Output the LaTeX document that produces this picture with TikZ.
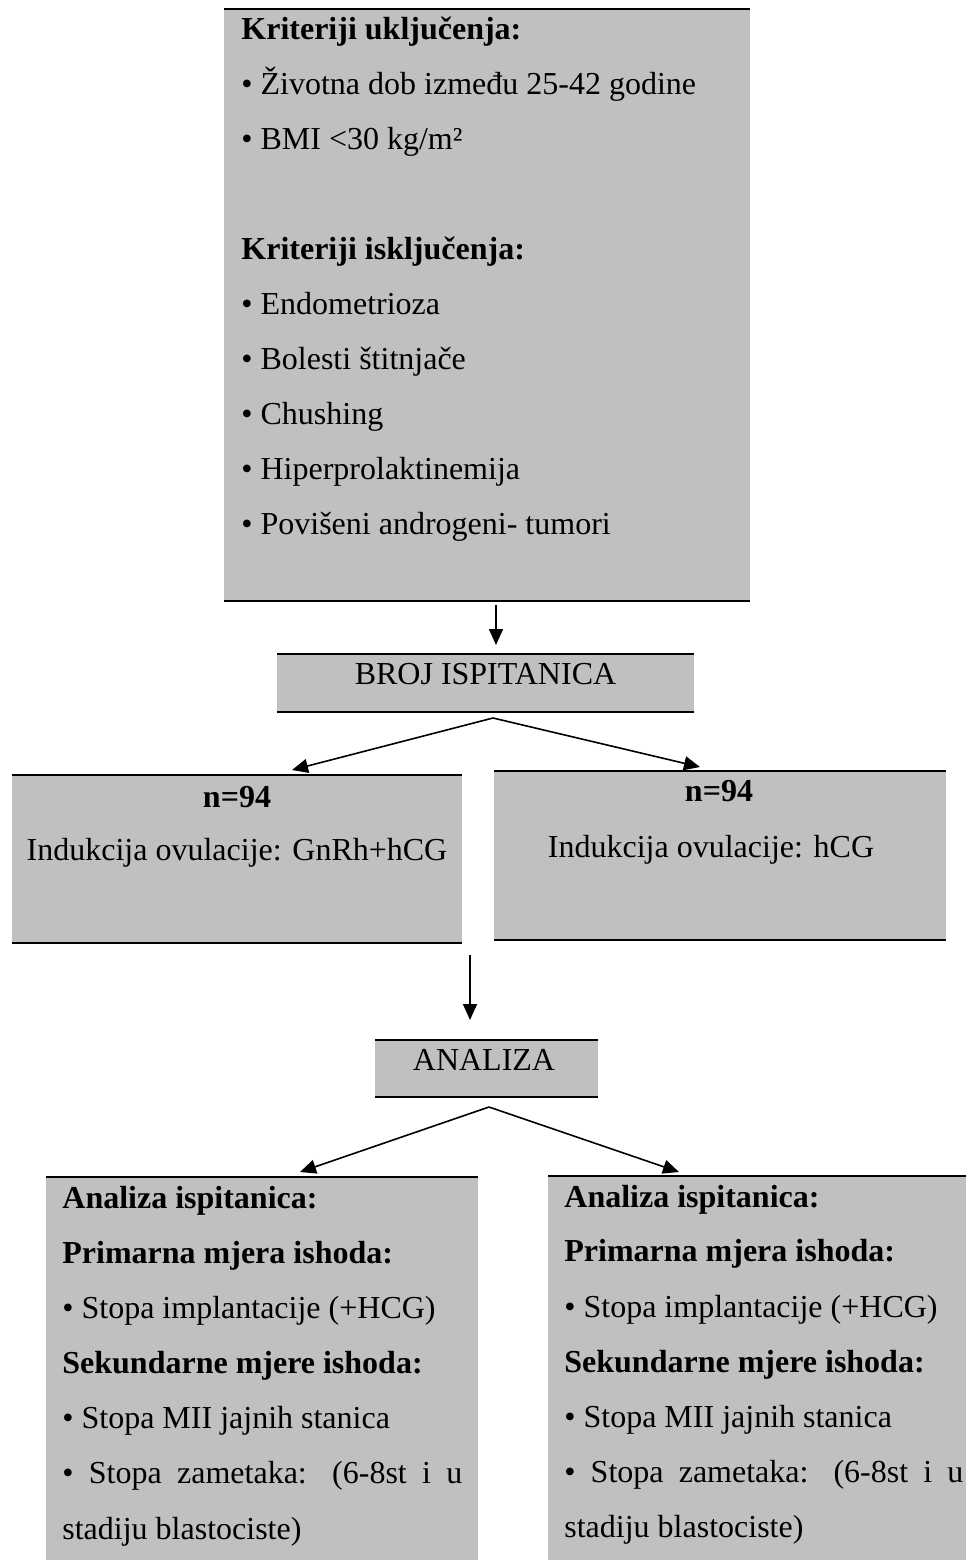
\documentclass[tikz,border=0pt]{standalone}
\usepackage{fontspec}
\setmainfont{Liberation Serif}
\usetikzlibrary{arrows.meta,calc}
\definecolor{boxgray}{RGB}{192,192,192}
\tikzset{
 panel/.style={fill=boxgray, draw=none, inner sep=0pt, outer sep=0pt, anchor=north west},
 rule/.style={line width=1.4pt, black},
 arr/.style={line width=0.8pt, -{Triangle[length=8pt,width=7pt]}},
 plain/.style={line width=0.8pt},
 txt/.style={anchor=base west, inner sep=0pt, font=\fontsize{16pt}{19pt}\selectfont},
 ctxt/.style={anchor=base, inner sep=0pt, font=\fontsize{16pt}{19pt}\selectfont},
}
\begin{document}
\begin{tikzpicture}[x=0.5pt,y=-0.5pt]
\useasboundingbox (0,0) rectangle (966,1560);
% panels
\node[panel, minimum width=263pt, minimum height=296pt] (top) at (224,9) {};
\node[panel, minimum width=208.5pt, minimum height=29pt] (broj) at (277,654) {};
\node[panel, minimum width=225pt, minimum height=84pt] (nleft) at (12,775) {};
\node[panel, minimum width=226pt, minimum height=84.5pt] (nright) at (494,771) {};
\node[panel, minimum width=111.5pt, minimum height=28.5pt] (analiza) at (375,1040) {};
\node[panel, minimum width=216pt, minimum height=191.5pt] (bl) at (46,1177) {};
\node[panel, minimum width=209pt, minimum height=192pt] (br) at (548,1176) {};
% rules
\foreach \b in {top,broj,nleft,nright,analiza}{
  \draw[rule] (\b.north west) -- (\b.north east);
  \draw[rule] (\b.south west) -- (\b.south east);
}
\draw[rule] (bl.north west) -- (bl.north east);
\draw[rule] (br.north west) -- (br.north east);
% connectors
\draw[arr] ($(top.south)+(9,4)$) -- ($(broj.north)+(10.5,-9)$);
\coordinate (apex1) at ($(broj.south)+(7.5,6)$);
\draw[arr] (apex1) -- ($(nleft.north)+(55,-5)$);
\draw[arr] (apex1) -- ($(nright.north)+(-20,-4)$);
\draw[arr] ($(nleft.south east)+(8,12)$) -- ($(analiza.north)+(-16.5,-20)$);
\coordinate (apex2) at ($(analiza.south)+(2.5,10)$);
\draw[arr] (apex2) -- ($(bl.north)+(38,-5)$);
\draw[arr] (apex2) -- ($(br.north)+(-78,-4)$);
% top text
\node[txt] (t1) at (241,39) {\bfseries Kriteriji uključenja:};
\node[txt] (t2) at (241,94) {• Životna dob između 25-42 godine};
\node[txt] (t3) at (241,149) {• BMI <30 kg/m²};
\node[txt] (t4) at (241,259) {\bfseries Kriteriji isključenja:};
\node[txt] (t5) at (241,314) {• Endometrioza};
\node[txt] (t6) at (241,369) {• Bolesti štitnjače};
\node[txt] (t7) at (241,424) {• Chushing};
\node[txt] (t8) at (241,479) {• Hiperprolaktinemija};
\node[txt] (t9) at (241,534) {• Povišeni androgeni- tumori};
% middle text
\node[ctxt] (brojt) at (485.5,684) {BROJ ISPITANICA};
\node[ctxt] (nl1) at (237,807) {\bfseries n=94};
\node[ctxt] (nl2) at (237,860) {Indukcija ovulacije: GnRh+hCG};
\node[ctxt] (nr1) at (719,801) {\bfseries n=94};
\node[ctxt] (nr2) at (711,857) {Indukcija ovulacije: hCG};
\node[ctxt] (anat) at (484,1070) {ANALIZA};
% bottom left text
\node[txt] (l1) at (62,1208) {\bfseries Analiza ispitanica:};
\node[txt] (l2) at (62,1263) {\bfseries Primarna mjera ishoda:};
\node[txt] (l3) at (62,1318) {• Stopa implantacije (+HCG)};
\node[txt] (l4) at (62,1373) {\bfseries Sekundarne mjere ishoda:};
\node[txt] (l5) at (62,1428) {• Stopa MII jajnih stanica};
\node[txt] (l6) at (62,1483) {\makebox[200pt][s]{• Stopa zametaka: (6-8st i u}};
\node[txt] (l7) at (62,1539) {stadiju blastociste)};
% bottom right text
\node[txt] (r1) at (564,1207) {\bfseries Analiza ispitanica:};
\node[txt] (r2) at (564,1261) {\bfseries Primarna mjera ishoda:};
\node[txt] (r3) at (564,1317) {• Stopa implantacije (+HCG)};
\node[txt] (r4) at (564,1372) {\bfseries Sekundarne mjere ishoda:};
\node[txt] (r5) at (564,1427) {• Stopa MII jajnih stanica};
\node[txt] (r6) at (564,1482) {\makebox[199.5pt][s]{• Stopa zametaka: (6-8st i u}};
\node[txt] (r7) at (564,1537) {stadiju blastociste)};
\end{tikzpicture}
\end{document}
